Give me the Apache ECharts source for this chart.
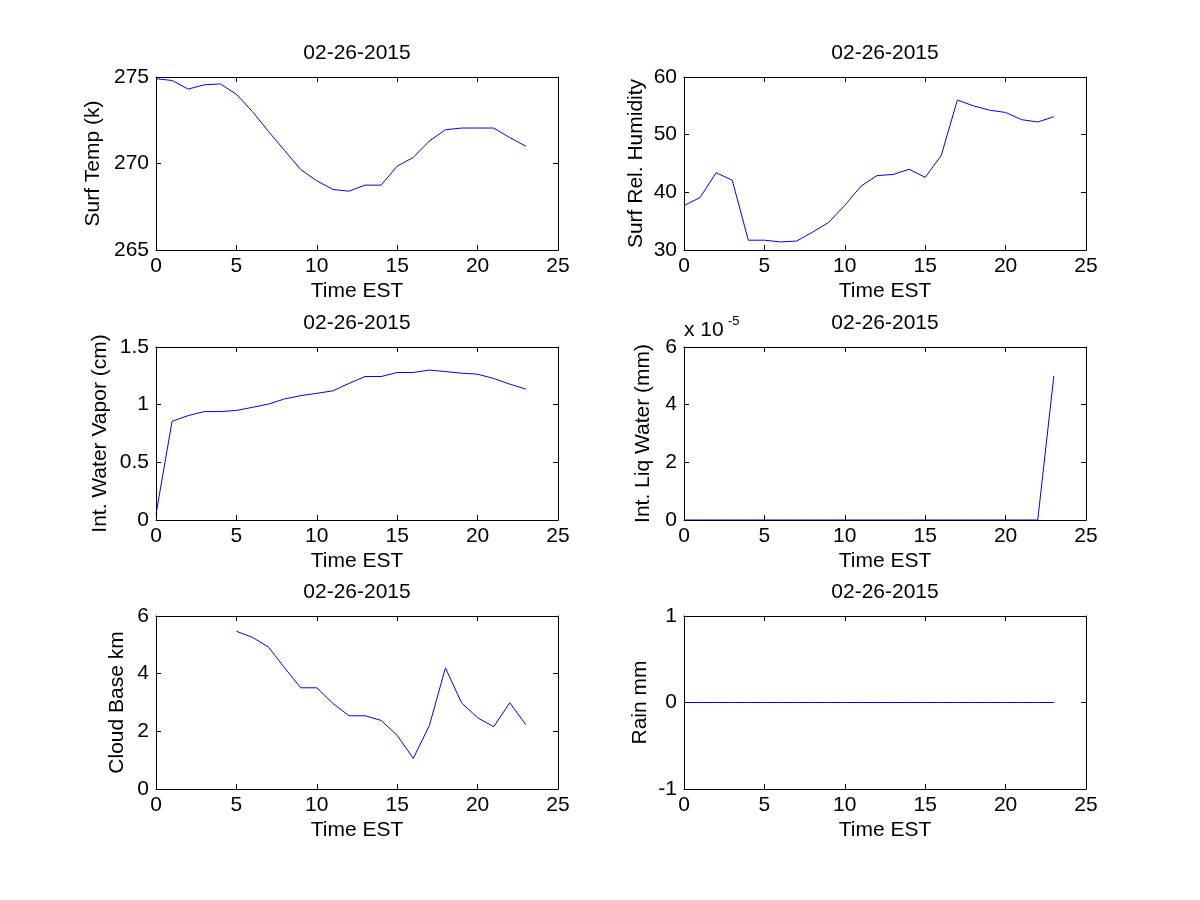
<!DOCTYPE html>
<html>
<head>
<meta charset="utf-8">
<title>02-26-2015</title>
<script src="https://cdn.jsdelivr.net/npm/echarts@6/dist/echarts.min.js"></script>
<style>
html, body { margin: 0; padding: 0; background: #fff; }
#main { width: 1200px; height: 900px; }
</style>
</head>
<body>
<div id="main"></div>
<script>
// hours of the day (Time EST)
var hours = [0, 1, 2, 3, 4, 5, 6, 7, 8, 9, 10, 11, 12, 13, 14, 15, 16, 17, 18, 19, 20, 21, 22, 23];

// surface temperature (k)
var surfTemp = [274.9, 274.8, 274.3, 274.55, 274.6, 274.0, 273.0, 271.85, 270.75, 269.65, 269.0, 268.5,
                268.4, 268.75, 268.75, 269.85, 270.35, 271.3, 271.95, 272.05, 272.05, 272.05, 271.5, 271.0];
// surface relative humidity
var surfRH = [37.7, 39.1, 43.4, 42.1, 31.7, 31.7, 31.4, 31.55, 33.1, 34.8, 37.75, 41.05,
              42.9, 43.1, 44.0, 42.6, 46.4, 56.0, 55.0, 54.25, 53.85, 52.6, 52.2, 53.1];
// integrated water vapor (cm)
var waterVapor = [0.05, 0.856, 0.905, 0.94, 0.94, 0.95, 0.977, 1.005, 1.05, 1.078, 1.098, 1.12,
                  1.184, 1.244, 1.244, 1.279, 1.279, 1.30, 1.287, 1.273, 1.264, 1.227, 1.178, 1.135];
// integrated liquid water (mm)
var liqWater = [0, 0, 0, 0, 0, 0, 0, 0, 0, 0, 0, 0,
                0, 0, 0, 0, 0, 0, 0, 0, 0, 0, 0, 0.00005];
// cloud base (km), no cloud before 5h
var cloudBase = [null, null, null, null, null, 5.47, 5.26, 4.92, 4.2, 3.51, 3.51, 2.97,
                 2.54, 2.54, 2.38, 1.86, 1.06, 2.2, 4.2, 2.99, 2.47, 2.16, 2.99, 2.23];
// rain (mm)
var rain = [0, 0, 0, 0, 0, 0, 0, 0, 0, 0, 0, 0,
            0, 0, 0, 0, 0, 0, 0, 0, 0, 0, 0, 0];

var xTicks = { min: 0, max: 25, interval: 5 };
var dateLabel = '02-26-2015';

var FONT = 'Liberation Sans, Arial, Helvetica, sans-serif';
var FS = 21;
var lefts = [156, 684];
var tops = [77, 347, 616];
var plotW = 402, plotH = 173;

// one entry per panel, in reading order
var panels = [
    { name: 'Surf Temp (k)', data: surfTemp, min: 265, max: 275, interval: 5, gap: 52 },
    { name: 'Surf Rel. Humidity', data: surfRH, min: 30, max: 60, interval: 10, gap: 37 },
    { name: 'Int. Water Vapor (cm)', data: waterVapor, min: 0, max: 1.5, interval: 0.5, gap: 45 },
    { name: 'Int. Liq Water (mm)', data: liqWater, min: 0, max: 0.00006, interval: 0.00002, gap: 30,
      fmt: function (v) { return String(Math.round(v * 1e5)); } },
    { name: 'Cloud Base km', data: cloudBase, min: 0, max: 6, interval: 2, gap: 28 },
    { name: 'Rain mm', data: rain, min: -1, max: 1, interval: 1, gap: 33 }
];

var textBlack = { color: '#000', fontSize: FS, fontFamily: FONT };
var lineBlack = { show: true, onZero: false, lineStyle: { color: '#000', width: 1 } };
var tickIn = { show: true, inside: true, length: 5, lineStyle: { color: '#000', width: 1 } };

var grids = [], xAxes = [], yAxes = [], series = [], titles = [];

panels.forEach(function (p, i) {
    var col = i % 2, row = Math.floor(i / 2);
    grids.push({ left: lefts[col], top: tops[row], width: plotW, height: plotH, show: false });

    // bottom axis with labels
    xAxes.push({
        gridIndex: i, type: 'value', position: 'bottom', z: 5,
        min: xTicks.min, max: xTicks.max, interval: xTicks.interval,
        name: 'Time EST', nameLocation: 'middle', nameGap: 31, nameTextStyle: textBlack,
        axisLine: lineBlack, axisTick: tickIn, splitLine: { show: false },
        axisLabel: { color: '#000', fontSize: FS, fontFamily: FONT, margin: 6 }
    });
    // top axis, box only
    xAxes.push({
        gridIndex: i, type: 'value', position: 'top', z: 5,
        min: xTicks.min, max: xTicks.max, interval: xTicks.interval,
        axisLine: lineBlack, axisTick: tickIn, splitLine: { show: false },
        axisLabel: { show: false }
    });
    yAxes.push({
        gridIndex: i, type: 'value', position: 'left', z: 5,
        min: p.min, max: p.max, interval: p.interval,
        name: p.name, nameLocation: 'middle', nameGap: p.gap, nameRotate: 90, nameTextStyle: textBlack,
        axisLine: lineBlack, axisTick: tickIn, splitLine: { show: false },
        axisLabel: { color: '#000', fontSize: FS, fontFamily: FONT, margin: 7, formatter: p.fmt }
    });
    yAxes.push({
        gridIndex: i, type: 'value', position: 'right', z: 5,
        min: p.min, max: p.max, interval: p.interval,
        axisLine: lineBlack, axisTick: tickIn, splitLine: { show: false },
        axisLabel: { show: false }
    });

    series.push({
        type: 'line', z: 1,
        xAxisIndex: i * 2, yAxisIndex: i * 2,
        data: hours.map(function (h, k) { return [h, p.data[k]]; }),
        showSymbol: false, connectNulls: false, silent: true, animation: false,
        lineStyle: { color: '#0000ff', width: 1 }
    });

    titles.push({
        text: dateLabel, left: lefts[col] + plotW / 2, top: tops[row] - 34,
        textAlign: 'center', padding: 0,
        textStyle: { color: '#000', fontSize: FS, fontWeight: 'normal', fontFamily: FONT }
    });
});

// exponent for the liquid water axis
titles.push({
    text: 'x 10', left: 684, top: 320, padding: 0,
    textStyle: { color: '#000', fontSize: FS, fontWeight: 'normal', fontFamily: FONT }
});
titles.push({
    text: '-5', left: 728, top: 315, padding: 0,
    textStyle: { color: '#000', fontSize: 13, fontWeight: 'normal', fontFamily: FONT }
});

var myChart = echarts.init(document.getElementById('main'));
var option = {
    backgroundColor: '#fff',
    animation: false,
    title: titles,
    grid: grids,
    xAxis: xAxes,
    yAxis: yAxes,
    series: series
};
myChart.setOption(option, true);
</script>
</body>
</html>
